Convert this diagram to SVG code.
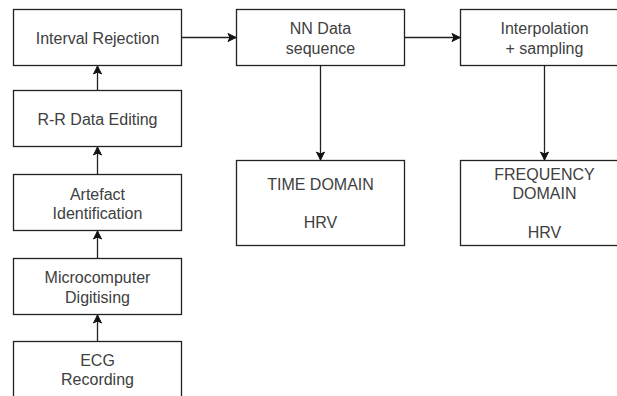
<svg xmlns="http://www.w3.org/2000/svg" width="617" height="396" viewBox="0 0 617 396">
<defs>
<style>
.box{fill:#fff;stroke:#222;stroke-width:1.3}
.t{font-family:"Liberation Sans",Arial,sans-serif;font-size:16px;fill:#404040;text-anchor:middle}
.c{fill:none;stroke:#222;stroke-width:1.3}
</style>
<marker id="ah" markerWidth="10" markerHeight="10" refX="9" refY="5" orient="auto" markerUnits="userSpaceOnUse">
<path d="M1,1 L9,5 L1,9 L3,5 Z" fill="#111" stroke="#111" stroke-width="1"/>
</marker>
</defs>
<rect width="617" height="396" fill="#fff"/>
<g id="connectors">
<path class="c" d="M97.5,341.5 V315" marker-end="url(#ah)"/>
<path class="c" d="M97.5,258.5 V231" marker-end="url(#ah)"/>
<path class="c" d="M97.5,174.5 V147" marker-end="url(#ah)"/>
<path class="c" d="M97.5,90.5 V66" marker-end="url(#ah)"/>
<path class="c" d="M181.5,37.5 H236" marker-end="url(#ah)"/>
<path class="c" d="M404.5,37.5 H460" marker-end="url(#ah)"/>
<path class="c" d="M320.5,65.5 V160" marker-end="url(#ah)"/>
<path class="c" d="M544.5,65.5 V160" marker-end="url(#ah)"/>
</g>
<g id="interval-rejection">
<rect class="box" x="13.5" y="9.5" width="168" height="56"/>
<text class="t" x="97.5" y="43.5">Interval Rejection</text>
</g>
<g id="rr-data-editing">
<rect class="box" x="13.5" y="90.5" width="168" height="56"/>
<text class="t" x="97.5" y="124.5">R-R Data Editing</text>
</g>
<g id="artefact-identification">
<rect class="box" x="13.5" y="174.5" width="168" height="56"/>
<text class="t" x="97.5" y="199.5">Artefact</text>
<text class="t" x="97.5" y="218.7">Identification</text>
</g>
<g id="microcomputer-digitising">
<rect class="box" x="13.5" y="258.5" width="168" height="56"/>
<text class="t" x="97.5" y="283.3">Microcomputer</text>
<text class="t" x="97.5" y="302.5">Digitising</text>
</g>
<g id="ecg-recording">
<rect class="box" x="13.5" y="341.5" width="168" height="80"/>
<text class="t" x="97.5" y="365.5">ECG</text>
<text class="t" x="97.5" y="384.7">Recording</text>
</g>
<g id="nn-data-sequence">
<rect class="box" x="236.5" y="9.5" width="168" height="56"/>
<text class="t" x="320.5" y="34.3">NN Data</text>
<text class="t" x="320.5" y="53.5">sequence</text>
</g>
<g id="interpolation-sampling">
<rect class="box" x="460.5" y="9.5" width="168" height="56"/>
<text class="t" x="544.5" y="34.3">Interpolation</text>
<text class="t" x="544.5" y="53.5">+ sampling</text>
</g>
<g id="time-domain-hrv">
<rect class="box" x="236.5" y="160.5" width="168" height="85"/>
<text class="t" x="320.5" y="190">TIME DOMAIN</text>
<text class="t" x="320.5" y="228.4">HRV</text>
</g>
<g id="frequency-domain-hrv">
<rect class="box" x="460.5" y="160.5" width="168" height="85"/>
<text class="t" x="544.5" y="180">FREQUENCY</text>
<text class="t" x="544.5" y="199.2">DOMAIN</text>
<text class="t" x="544.5" y="238.4">HRV</text>
</g>
</svg>
